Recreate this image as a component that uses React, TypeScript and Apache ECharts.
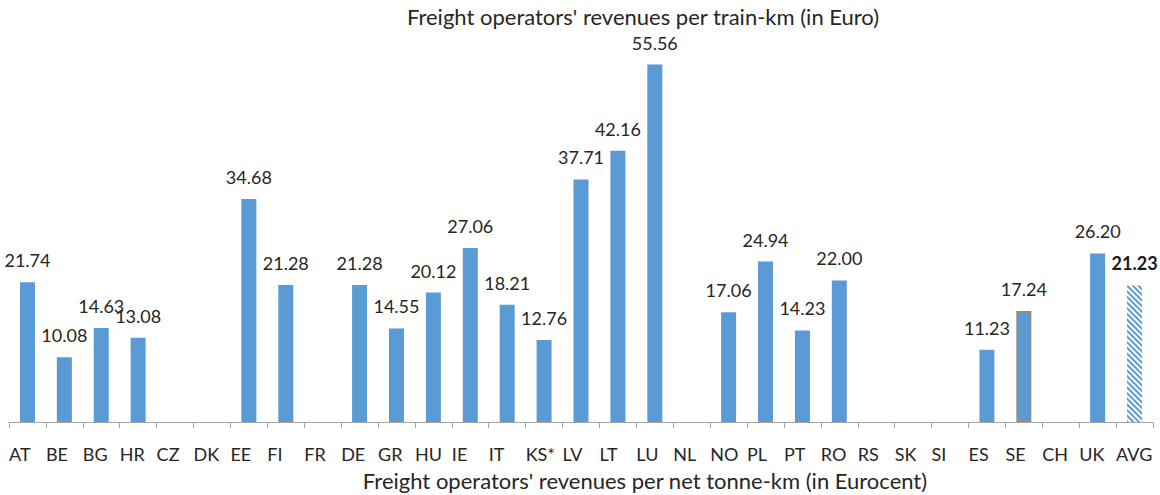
import React, { useEffect, useRef } from "react";
import * as echarts from "echarts";

const categories = [
  "AT", "BE", "BG", "HR", "CZ", "DK", "EE", "FI", "FR", "DE", "GR", "HU", "IE", "IT", "KS*", "LV",
  "LT", "LU", "NL", "NO", "PL", "PT", "RO", "RS", "SK", "SI", "ES", "SE", "CH", "UK", "AVG",
];
const values: (number | null)[] = [
  21.74, 10.08, 14.63, 13.08, null, null, 34.68, 21.28, null, 21.28, 14.55, 20.12, 27.06, 18.21, 12.76, 37.71,
  42.16, 55.56, null, 17.06, 24.94, 14.23, 22.0, null, null, null, 11.23, 17.24, null, 26.2, 21.23,
];
const titleText = "Freight operators' revenues per train-km (in Euro)";
const axisNameText = "Freight operators' revenues per net tonne-km (in Eurocent)";
const highlightedCategory = "SE";
const averageCategory = "AVG";

const FONT = "Lato, 'Open Sans', sans-serif";
const BLUE = "#5B9BD5";
const TEXT = "#262626";

export default function App() {
  const ref = useRef<HTMLDivElement>(null);
  useEffect(() => {
    if (!ref.current) return;
    const chart = echarts.init(ref.current, null, { renderer: "svg" });
    const data = values.map((v, i) => {
      const cat = categories[i];
      if (v === null) return null;
      if (cat === averageCategory) {
        return {
          value: v,
          itemStyle: {
            color: "#ffffff",
            decal: {
              symbol: "rect",
              symbolSize: 1,
              dashArrayX: [1, 0],
              dashArrayY: [2, 2],
              rotation: Math.PI / 4,
              color: BLUE,
            },
          },
          label: { fontWeight: "bold", color: "#1a1a1a" },
        };
      }
      if (cat === highlightedCategory) {
        return { value: v, itemStyle: { color: BLUE, borderColor: "#8c8c8c", borderWidth: 2 } };
      }
      return { value: v };
    });
    chart.setOption({
      animation: false,
      grid: { left: 9, right: 7, top: 36, bottom: 73, containLabel: false },
      xAxis: [
        {
          type: "category",
          data: categories,
          boundaryGap: true,
          axisLine: { show: true, lineStyle: { color: "#a6a6a6", width: 1 } },
          axisTick: { show: true, length: 6, lineStyle: { color: "#a6a6a6" } },
          axisLabel: { show: false },
        },
        {
          type: "category",
          data: [...categories, ""],
          boundaryGap: false,
          position: "bottom",
          axisLine: { show: false },
          axisTick: { show: false },
          axisLabel: {
            show: true,
            interval: 0,
            align: "left",
            margin: 23,
            fontFamily: FONT,
            fontSize: 18,
            color: TEXT,
          },
        },
      ],
      yAxis: {
        type: "value",
        min: 0,
        max: 60,
        show: false,
        splitLine: { show: false },
      },
      series: [
        {
          type: "bar",
          xAxisIndex: 0,
          data,
          barWidth: 15,
          itemStyle: { color: BLUE },
          label: {
            show: true,
            position: "top",
            distance: 13,
            fontFamily: FONT,
            fontSize: 18,
            color: TEXT,
            formatter: (p: any) => (p.value == null ? "" : Number(p.value).toFixed(2)),
          },
        },
      ],
      graphic: [
        {
          type: "text",
          x: 643,
          y: 16,
          style: {
            text: titleText,
            font: `22px ${FONT}`,
            fill: TEXT,
            textAlign: "center",
            textVerticalAlign: "middle",
          },
        },
        {
          type: "text",
          x: 645,
          y: 480,
          style: {
            text: axisNameText,
            font: `22px ${FONT}`,
            fill: TEXT,
            textAlign: "center",
            textVerticalAlign: "middle",
          },
        },
      ],
    });
    return () => chart.dispose();
  }, []);
  return (
    <div
      ref={ref}
      style={{ position: "fixed", left: 0, top: 0, width: 1160, height: 495, background: "#fff" }}
    />
  );
}
